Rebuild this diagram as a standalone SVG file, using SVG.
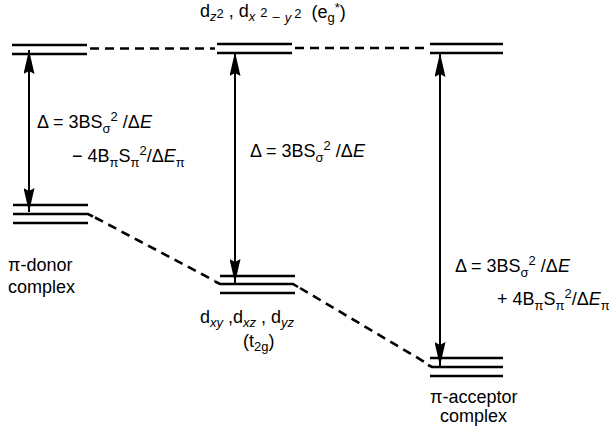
<svg xmlns="http://www.w3.org/2000/svg" width="609" height="433" viewBox="0 0 609 433">
<style>
text{font-family:"Liberation Sans",Arial,sans-serif;font-size:18px;fill:#000}
.s{font-size:13px}
.i{font-style:italic}
.lv{stroke:#000;stroke-width:2.6;fill:none}
.dash{stroke:#000;stroke-width:2.6;stroke-dasharray:9 6;fill:none}
.arr{stroke:#000;stroke-width:2;fill:none;marker-start:url(#ah);marker-end:url(#ah)}
</style>
<defs>
<marker id="ah" viewBox="0 0 24 11" refX="24" refY="5.5" markerWidth="24" markerHeight="11" markerUnits="userSpaceOnUse" orient="auto-start-reverse">
<path d="M0,0 L24,5.5 L0,11 L3,5.5 Z" fill="#000"/>
</marker>
</defs>
<rect width="609" height="433" fill="#fff"/>

<g id="eg-donor">
<path class="lv" d="M12,45 H87 M12,54 H87"/>
</g>
<g id="eg-center">
<path class="lv" d="M217,44 H292 M217,53 H292"/>
</g>
<g id="eg-acceptor">
<path class="lv" d="M430,44 H503 M430,53 H503"/>
</g>
<g id="t2g-donor">
<path class="lv" d="M13,205 H88 M13,214 H88 L93,216.5 M13,223 H88"/>
</g>
<g id="t2g-center">
<path class="lv" d="M220,276 H295 M215,281.5 L220,284 H293 L298,287 M220,293 H295"/>
</g>
<g id="t2g-acceptor">
<path class="lv" d="M430,358 H503 M428,365 L432,367 H503 M430,376 H503"/>
</g>

<g id="connectors">
<path class="dash" d="M90,48.5 H215"/>
<path class="dash" d="M295,48 H428"/>
<path class="dash" d="M95,217.5 L215,281"/>
<path class="dash" d="M300,288 L428,364"/>
<path class="arr" d="M29,50 V212"/>
<path class="arr" d="M235,52 V283"/>
<path class="arr" d="M440,53 V366"/>
</g>

<g id="label-eg">
<text x="200" y="17">d<tspan class="s i" dy="4">z</tspan><tspan class="s" dy="-3">2</tspan><tspan dy="-1" dx="5">, d</tspan><tspan class="s i" dy="4">x</tspan><tspan class="s" dy="-4" dx="5">2</tspan><tspan class="s" dy="4" dx="5">–</tspan><tspan class="s i" dy="1" dx="5">y</tspan><tspan class="s" dy="-4" dx="3">2</tspan><tspan dy="0" dx="10">(e</tspan><tspan class="s" dy="4">g</tspan><tspan class="s" dy="-10">*</tspan><tspan dy="6">)</tspan></text>
</g>
<g id="label-donor-delta">
<text x="37" y="128">Δ = 3BS<tspan class="s" dy="5">σ</tspan><tspan class="s" dy="-12">2</tspan><tspan dy="7"> /Δ</tspan><tspan class="i">E</tspan></text>
<text x="72" y="162">− 4B<tspan class="s" dy="5">π</tspan><tspan dy="-5">S</tspan><tspan class="s" dy="5">π</tspan><tspan class="s" dy="-12">2</tspan><tspan dy="7">/Δ</tspan><tspan class="i">E</tspan><tspan class="s" dy="5">π</tspan></text>
</g>
<g id="label-center-delta">
<text x="250" y="157">Δ = 3BS<tspan class="s" dy="5">σ</tspan><tspan class="s" dy="-12">2</tspan><tspan dy="7"> /Δ</tspan><tspan class="i">E</tspan></text>
</g>
<g id="label-acceptor-delta">
<text x="455" y="272">Δ = 3BS<tspan class="s" dy="5">σ</tspan><tspan class="s" dy="-12">2</tspan><tspan dy="7"> /Δ</tspan><tspan class="i">E</tspan></text>
<text x="497" y="305">+ 4B<tspan class="s" dy="5">π</tspan><tspan dy="-5">S</tspan><tspan class="s" dy="5">π</tspan><tspan class="s" dy="-12">2</tspan><tspan dy="7">/Δ</tspan><tspan class="i">E</tspan><tspan class="s" dy="5">π</tspan></text>
</g>
<g id="label-donor">
<text x="8" y="271">π-donor</text>
<text x="8" y="293">complex</text>
</g>
<g id="label-t2g">
<text x="200" y="323">d<tspan class="s i" dy="4">xy</tspan><tspan dy="-4"> ,d</tspan><tspan class="s i" dy="4">xz</tspan><tspan dy="-4"> , d</tspan><tspan class="s i" dy="4">yz</tspan></text>
<text x="243" y="347">(t<tspan class="s" dy="4">2g</tspan><tspan dy="-4">)</tspan></text>
</g>
<g id="label-acceptor">
<text x="430" y="403">π-acceptor</text>
<text x="440" y="422">complex</text>
</g>
</svg>
